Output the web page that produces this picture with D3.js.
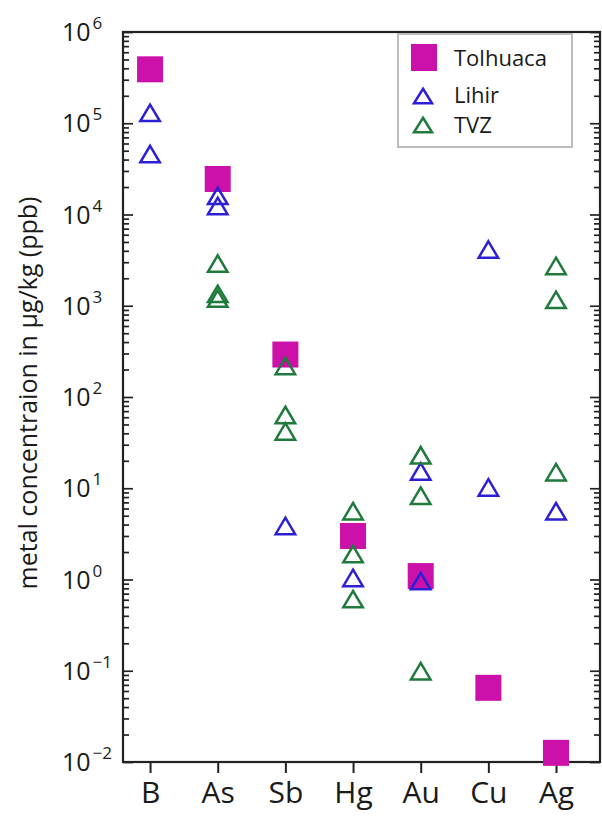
<!DOCTYPE html>
<html>
<head>
 <meta charset="UTF-8">
 <title>Metal concentrations</title>
 <script src="https://d3js.org/d3.v7.min.js"></script>
 <style>
  body { margin: 0; background: #fff; }
  text { font-family: "Open Sans", sans-serif; fill: #1a1a1a; }
 </style>
</head>
<body>
<script type="text/javascript">
// data
var elements = ["B", "As", "Sb", "Hg", "Au", "Cu", "Ag"];
var tolhuaca = [3.9e5, 2.45e4, 292, 3.0, 1.09, 0.065, 0.0126];
var lihirEl  = ["B", "B", "As", "As", "Sb", "Hg", "Au", "Au", "Cu", "Cu", "Ag"];
var lihirVal = [1.3e5, 4.6e4, 1.6e4, 1.24e4, 3.86, 1.04, 15.3, 0.96, 4130, 10.2, 5.6];
var tvzEl  = ["As", "As", "As", "Sb", "Sb", "Sb", "Hg", "Hg", "Hg", "Au", "Au", "Au", "Ag", "Ag", "Ag"];
var tvzVal = [2900, 1350, 1200, 219, 63.5, 42, 5.6, 1.9, 0.61, 23, 8.3, 0.099, 2730, 1160, 15];
var decades = [-2, -1, 0, 1, 2, 3, 4, 5, 6];

var width = 602, height = 825;
var pLeft = 123, pRight = 600, pTop = 32, pBottom = 762;
var magenta = "#cc10aa", blue = "#2c1fd4", green = "#1f7a3c";

var svg = d3.select("body").append("svg")
  .attr("width", width)
  .attr("height", height);

var x = d3.scaleLinear().domain([0.6, 7.65]).range([pLeft, pRight]);
var y = d3.scaleLog().domain([1e-2, 1e6]).range([pBottom, pTop]);

var majors = decades.map(function (d) { return Math.pow(10, d); });
var minors = [];
for (var k = -2; k < 6; k++) {
  for (var m = 2; m <= 9; m++) minors.push(m * Math.pow(10, k));
}

function yTicks(axisFn, pos) {
  svg.append("g")
    .attr("transform", "translate(" + pos + ",0)")
    .call(axisFn(y).tickValues(majors).tickSize(-10).tickFormat(""))
    .call(function (g) { g.select(".domain").remove(); })
    .selectAll("line").attr("stroke", "#222").attr("stroke-width", 1.7);
  svg.append("g")
    .attr("transform", "translate(" + pos + ",0)")
    .call(axisFn(y).tickValues(minors).tickSize(-6).tickFormat(""))
    .call(function (g) { g.select(".domain").remove(); })
    .selectAll("line").attr("stroke", "#222").attr("stroke-width", 1.7);
}
yTicks(d3.axisLeft, pLeft);
yTicks(d3.axisRight, pRight);

// x axis
var xa = svg.append("g")
  .attr("transform", "translate(0," + pBottom + ")")
  .call(d3.axisBottom(x).tickValues([1, 2, 3, 4, 5, 6, 7]).tickSize(11).tickPadding(9)
    .tickFormat(function (i) { return elements[i - 1]; }));
xa.select(".domain").remove();
xa.selectAll("line").attr("stroke", "#222").attr("stroke-width", 2);
xa.selectAll("text")
  .style("font-family", "'Open Sans', sans-serif")
  .style("font-size", "30px")
  .attr("fill", "#1a1a1a");

// frame
svg.append("rect")
  .attr("x", pLeft).attr("y", pTop)
  .attr("width", pRight - pLeft).attr("height", pBottom - pTop)
  .attr("fill", "none").attr("stroke", "#222").attr("stroke-width", 2.2);

// y tick labels 10^n
var lab = svg.append("g").selectAll("text")
  .data(decades)
  .enter().append("text")
  .attr("x", 62)
  .attr("y", function (d) { return y(Math.pow(10, d)) + 9; })
  .style("font-size", "25px");
lab.append("tspan").text("10");
lab.append("tspan")
  .attr("dx", 2).attr("dy", -12)
  .style("font-size", "17px")
  .text(function (d) { return d < 0 ? "\u2212" + (-d) : d; });

// y label
svg.append("text")
  .attr("transform", "translate(37,393) rotate(-90)")
  .attr("text-anchor", "middle")
  .style("font-size", "25px")
  .text("metal concentraion in \u00b5g/kg (ppb)");

function tri(w, h) {
  return "M0," + (-h / 2) + "L" + (w / 2) + "," + (h / 2) + "L" + (-w / 2) + "," + (h / 2) + "Z";
}
var sq = 26;

// Tolhuaca squares
svg.append("g").selectAll("rect")
  .data(tolhuaca)
  .enter().append("rect")
  .attr("x", function (d, i) { return x(i + 1) - sq / 2; })
  .attr("y", function (d) { return y(d) - sq / 2; })
  .attr("width", sq).attr("height", sq)
  .attr("fill", magenta);

function triangles(els, vals, color) {
  svg.append("g").selectAll("path")
    .data(vals)
    .enter().append("path")
    .attr("d", tri(19.5, 16.5))
    .attr("transform", function (d, i) {
      return "translate(" + x(elements.indexOf(els[i]) + 1) + "," + y(d) + ")";
    })
    .attr("fill", "none")
    .attr("stroke", color)
    .attr("stroke-width", 2.5);
}
triangles(lihirEl, lihirVal, blue);
triangles(tvzEl, tvzVal, green);

// legend
var lg = svg.append("g");
lg.append("rect")
  .attr("x", 398).attr("y", 34).attr("width", 174).attr("height", 113)
  .attr("fill", "#fff").attr("stroke", "#bdbdbd").attr("stroke-width", 2);
lg.append("rect")
  .attr("x", 411).attr("y", 44).attr("width", 26).attr("height", 27)
  .attr("fill", magenta);
lg.append("path").attr("d", tri(18, 14.5))
  .attr("transform", "translate(423,96)")
  .attr("fill", "none").attr("stroke", blue).attr("stroke-width", 2.5);
lg.append("path").attr("d", tri(18, 14.5))
  .attr("transform", "translate(423,125)")
  .attr("fill", "none").attr("stroke", green).attr("stroke-width", 2.5);
var names = ["Tolhuaca", "Lihir", "TVZ"];
var ly = [58, 95, 125];
lg.selectAll("text.lab")
  .data(names)
  .enter().append("text")
  .attr("x", 454)
  .attr("y", function (d, i) { return ly[i] + 8; })
  .style("font-size", "22px")
  .text(function (d) { return d; });
</script>
</body>
</html>
